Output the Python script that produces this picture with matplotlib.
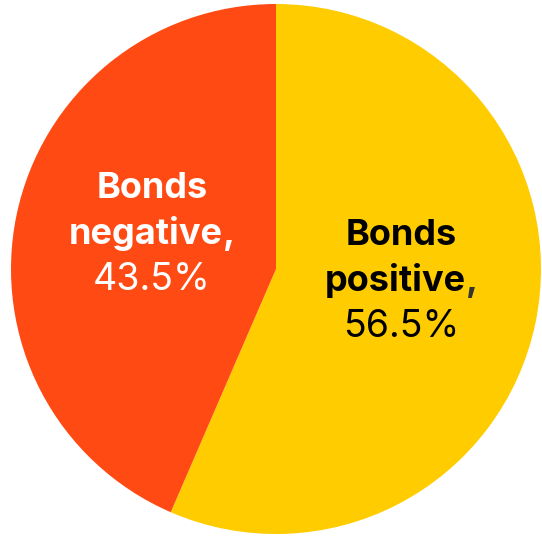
import matplotlib.pyplot as plt

labels = ['Bonds positive', 'Bonds negative']
shares = [56.5, 43.5]
colors = ['#FFCC00', '#FF4A14']

plt.rcParams['font.family'] = ['Inter', 'DejaVu Sans']

fig = plt.figure(figsize=(5.42, 5.37), dpi=100)
ax = fig.add_axes([0, 0, 1, 1])

# pie in pixel-like data coords, starting at 12 o'clock, clockwise
ax.pie(shares, colors=colors, startangle=90, counterclock=False,
       center=(276, 268), radius=265,
       wedgeprops=dict(linewidth=0))
ax.set_xlim(0, 542)
ax.set_ylim(0, 537)
ax.set_aspect('equal')
ax.axis('off')

fs_bold = 26
fs_pct = 27
line_h = 46


def label_block(x, y, name, pct, color, comma_color):
    first, second = name.split(' ')
    bold = dict(fontsize=fs_bold, fontweight='bold', va='baseline')
    ax.text(x, y + line_h, first, ha='center', color=color, **bold)
    t = ax.text(x, y, second + ',', ha='center', color=color, **bold)
    fig.canvas.draw()
    bb = t.get_window_extent()
    t.remove()
    x0, x1 = ax.transData.inverted().transform([(bb.x0, 0), (bb.x1, 0)])[:, 0]
    ax.text(x0, y, second, ha='left', color=color, **bold)
    ax.text(x1, y, ',', ha='right', color=comma_color, **bold)
    ax.text(x, y - line_h, f'{pct}%', ha='center', va='baseline',
            fontsize=fs_pct, color=color)


label_block(401, 537 - 291, labels[0], shares[0], 'black', '#333333')
label_block(152, 537 - 244, labels[1], shares[1], 'white', 'white')

fig.savefig('out.png', dpi=100)
